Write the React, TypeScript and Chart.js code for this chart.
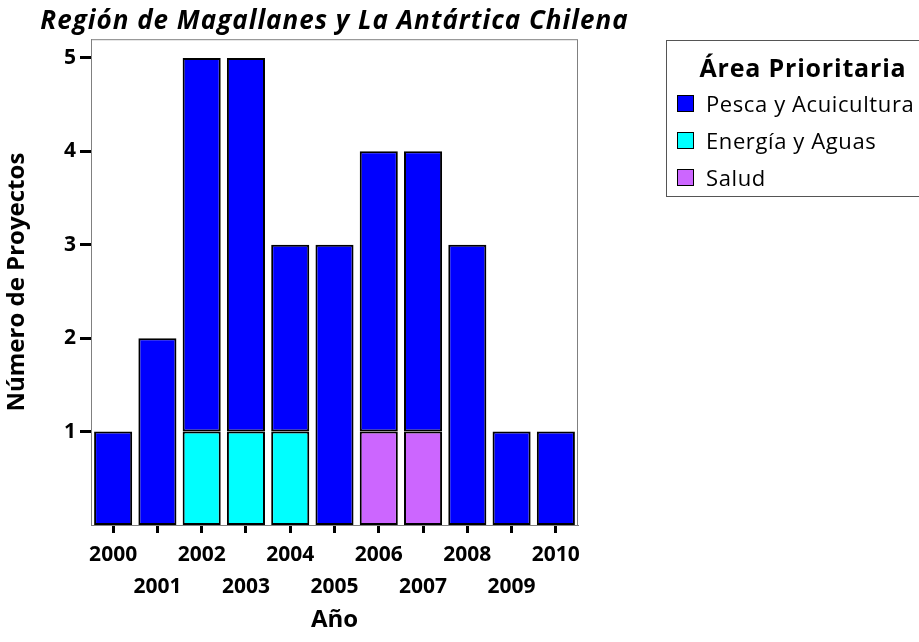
import React, { useEffect, useRef } from "react";
import { Chart, registerables } from "chart.js";
Chart.register(...registerables);

const years = ["2000", "2001", "2002", "2003", "2004", "2005", "2006", "2007", "2008", "2009", "2010"];
const pesca = [1, 2, 4, 4, 2, 3, 3, 3, 3, 1, 1];
const energia = [null, null, 1, 1, 1, null, null, null, null, null, null];
const salud = [null, null, null, null, null, null, 1, 1, null, null, null];
const yTicks = [1, 2, 3, 4, 5];
const seriesNames = ["Pesca y Acuicultura", "Energía y Aguas", "Salud"];
const seriesColors = ["#0000FF", "#00FFFF", "#CC66FF"];
const titleText = "Región de Magallanes y La Antártica Chilena";
const legendTitle = "Área Prioritaria";
const yTitle = "Número de Proyectos";
const xTitle = "Año";

const FONT = "'Open Sans', Lato, sans-serif";

const framePlugin = {
  id: "frame",
  afterDraw(chart: any) {
    const { ctx, chartArea } = chart;
    ctx.save();
    ctx.strokeStyle = "#808080";
    ctx.lineWidth = 1;
    ctx.strokeRect(chartArea.left + 0.5, chartArea.top + 0.5, chartArea.right - chartArea.left - 1, chartArea.bottom - chartArea.top);
    ctx.restore();
  },
};

// let the title overflow the plot width (no squeezing) and widen its letter spacing
const titleSpacingPlugin = {
  id: "titleSpacing",
  afterLayout(chart: any) {
    const tb = chart.titleBlock;
    if (tb && !tb._spaced) {
      const orig = tb.draw.bind(tb);
      tb.draw = (...args: any[]) => {
        const ctx = chart.ctx;
        const l = tb.left;
        const r = tb.right;
        const c = (l + r) / 2;
        tb.left = c - 330;
        tb.right = c + 330;
        ctx.save();
        try {
          (ctx as any).letterSpacing = "1px";
        } catch (e) {}
        orig(...args);
        ctx.restore();
        tb.left = l;
        tb.right = r;
      };
      tb._spaced = true;
    }
  },
};

export default function App() {
  const ref = useRef<HTMLCanvasElement | null>(null);
  useEffect(() => {
    if (!ref.current) return;
    Chart.defaults.font.family = FONT;
    const ds = (label: string, data: any[], color: string) => ({
      label,
      data,
      backgroundColor: color,
      borderColor: "#000000",
      borderWidth: 2,
      borderSkipped: false,
      barPercentage: 0.86,
      categoryPercentage: 1,
    });
    const chart = new Chart(ref.current, {
      type: "bar",
      data: {
        labels: years,
        datasets: [
          ds(seriesNames[1], energia, seriesColors[1]),
          ds(seriesNames[2], salud, seriesColors[2]),
          ds(seriesNames[0], pesca, seriesColors[0]),
        ],
      },
      options: {
        animation: false,
        responsive: true,
        maintainAspectRatio: false,
        layout: { padding: { left: 0, right: 341, top: 0, bottom: 0 } },
        plugins: {
          legend: { display: false },
          tooltip: { enabled: false },
          title: {
            display: true,
            text: titleText,
            fullSize: false,
            color: "#000",
            font: { size: 26, weight: "bold", style: "italic", family: FONT, lineHeight: 1.2 },
            padding: { top: 6, bottom: 2 },
          },
        },
        scales: {
          x: {
            stacked: true,
            offset: true,
            grid: {
              offset: false,
              drawOnChartArea: false,
              drawTicks: true,
              tickLength: 8,
              tickWidth: 3,
              tickColor: "#000",
            },
            border: { color: "#808080", width: 1 },
            ticks: {
              color: "#000",
              padding: 6,
              maxRotation: 0,
              autoSkip: false,
              font: { size: 21, weight: "bold", lineHeight: 1.52, family: FONT },
              callback: function (this: any, _v: any, i: number) {
                const l = years[i];
                return i % 2 === 0 ? [l, ""] : ["", l];
              },
            },
            title: {
              display: true,
              text: xTitle,
              color: "#000",
              font: { size: 24, weight: "bold", family: FONT },
              padding: { top: 0, bottom: 7 },
            },
            afterFit: (s: any) => {
              s.height = 117;
            },
          },
          y: {
            stacked: true,
            min: 0,
            max: 5.2,
            afterBuildTicks: (s: any) => {
              s.ticks = yTicks.map((v) => ({ value: v }));
            },
            grid: {
              drawOnChartArea: false,
              drawTicks: true,
              tickLength: 11,
              tickWidth: 3,
              tickColor: "#000",
            },
            border: { color: "#808080", width: 1 },
            ticks: {
              color: "#000",
              padding: 4,
              font: { size: 21, weight: "bold", family: FONT },
            },
            title: {
              display: true,
              text: yTitle,
              color: "#000",
              font: { size: 24, weight: "bold", family: FONT },
              padding: { top: 3, bottom: 0 },
            },
            afterFit: (s: any) => {
              s.width = 91;
            },
          },
        },
      },
      plugins: [framePlugin, titleSpacingPlugin],
    } as any);
    return () => chart.destroy();
  }, []);

  return (
    <div style={{ position: "absolute", left: 0, top: 0, width: 919, height: 642, overflow: "hidden", background: "#fff" }}>
      <div style={{ position: "absolute", left: 0, top: 0, width: 919, height: 642 }}>
        <canvas ref={ref} />
      </div>
      <div
        style={{
          position: "absolute",
          left: 666,
          top: 40,
          width: 274,
          height: 157,
          border: "1px solid #555",
          fontFamily: FONT,
          color: "#000",
          boxSizing: "border-box",
        }}
      >
        <div style={{ textAlign: "center", fontWeight: "bold", fontSize: 25, letterSpacing: "0.8px", marginTop: 10, lineHeight: "33px" }}>
          {legendTitle}
        </div>
        {seriesNames.map((n, i) => (
          <div key={n} style={{ position: "absolute", left: 10, top: 48 + i * 37, display: "flex", alignItems: "center", height: 28 }}>
            <span
              style={{
                display: "inline-block",
                width: 17,
                height: 17,
                background: seriesColors[i],
                border: "1.5px solid #000",
                boxSizing: "border-box",
                marginRight: 12,
              }}
            />
            <span style={{ fontSize: 22, letterSpacing: "0.6px", lineHeight: "28px" }}>{n}</span>
          </div>
        ))}
      </div>
    </div>
  );
}
